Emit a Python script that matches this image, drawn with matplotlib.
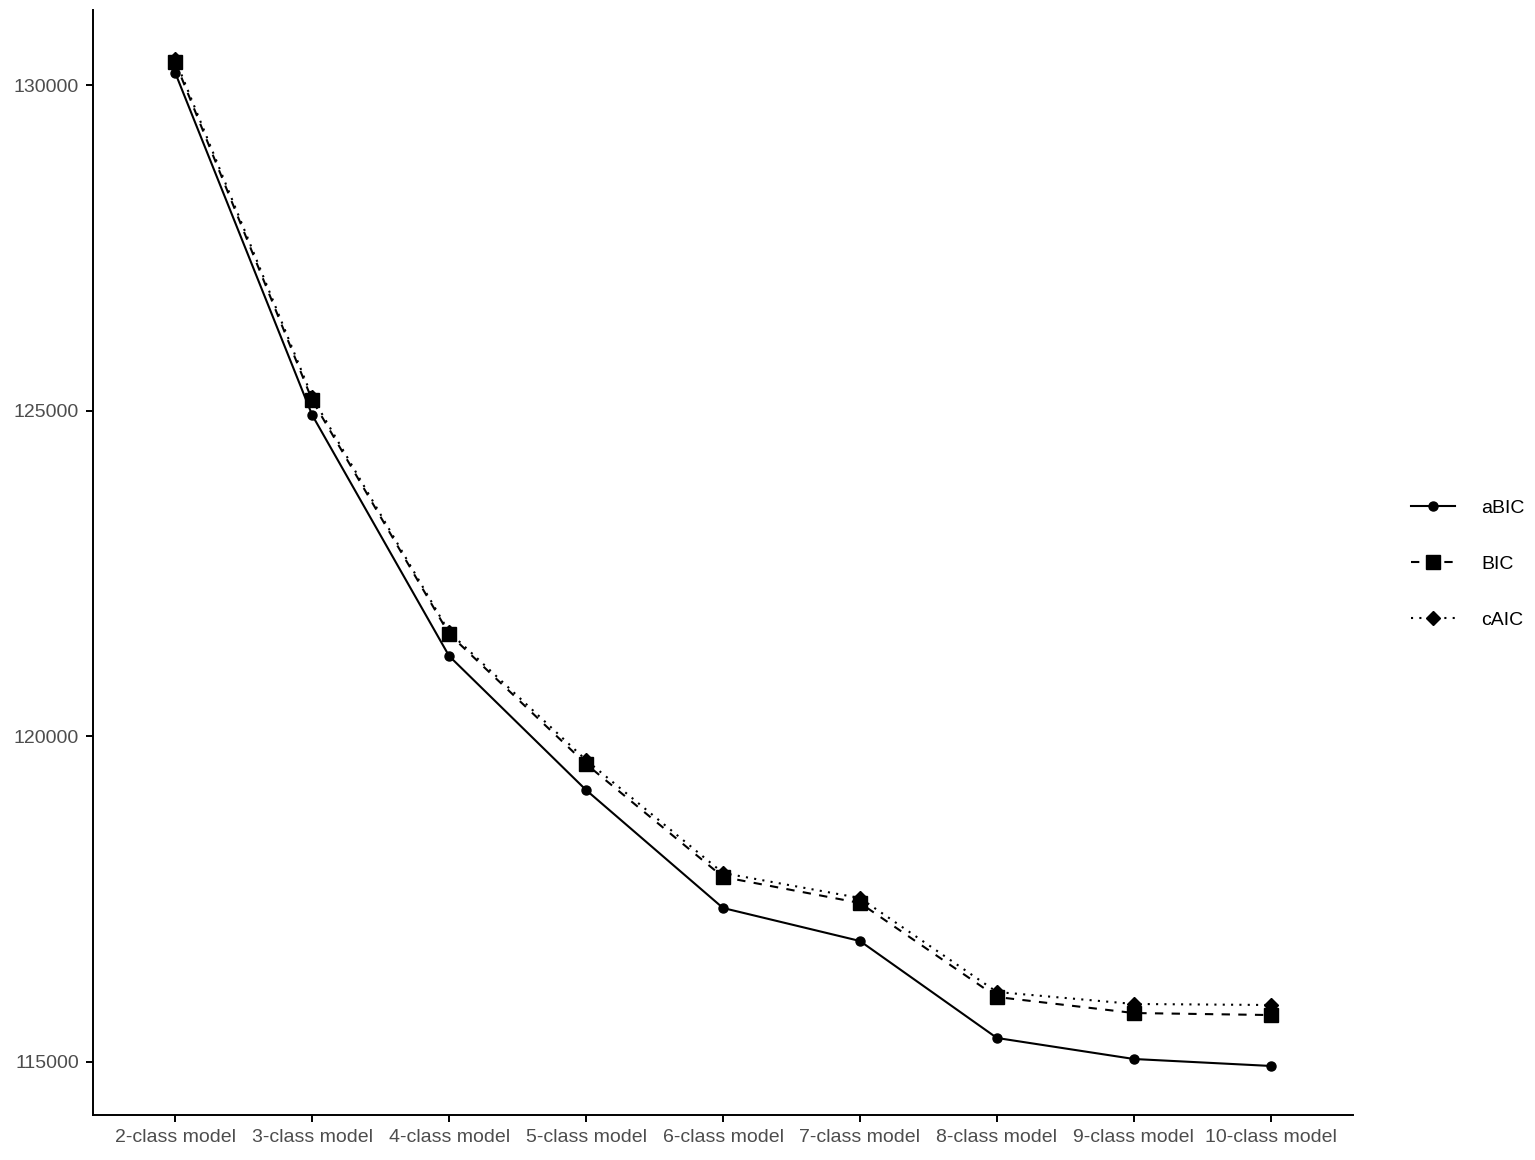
import matplotlib.pyplot as plt
import numpy as np

plt.rcParams['font.family'] = ['Liberation Sans', 'DejaVu Sans']

# data
models = ['2-class model', '3-class model', '4-class model', '5-class model',
          '6-class model', '7-class model', '8-class model', '9-class model',
          '10-class model']
abic = [130190, 124933, 121232, 119174, 117362, 116855, 115366, 115043, 114936]
bic = [130353, 125163, 121570, 119573, 117838, 117439, 115995, 115749, 115718]
caic = [130399, 125209, 121600, 119634, 117899, 117515, 116072, 115888, 115872]

x = np.arange(len(models))

fig = plt.figure(figsize=(15.35, 11.6), dpi=100)
ax = fig.add_axes([93 / 1535, 1 - 1115 / 1160, (1353 - 93) / 1535, (1115 - 10) / 1160])

lw = 1.5
ax.plot(x, abic, '-', color='black', lw=lw, marker='o', ms=6.5, label='aBIC')
ax.plot(x, bic, color='black', lw=lw, ls=(0, (4, 4)), marker='s', ms=9.5, label='BIC')
ax.plot(x, caic, color='black', lw=lw, ls=(0, (1, 3)), marker='D', ms=7.5, label='cAIC')

ax.set_xlim(-0.6, len(models) - 0.4)
ax.set_ylim(114183, 131152)
ax.set_xticks(x)
ax.set_xticklabels(models)
ax.set_yticks([115000, 120000, 125000, 130000])

for side in ['top', 'right']:
    ax.spines[side].set_visible(False)
for side in ['left', 'bottom']:
    ax.spines[side].set_linewidth(1.4)
ax.tick_params(axis='both', length=5, width=1.4, color='black',
               labelsize=14, labelcolor='#4d4d4d', pad=5)

leg = fig.legend(loc='center left', bbox_to_anchor=(1411 / 1535, 1 - 564 / 1160),
                 frameon=False, fontsize=14, handlelength=2.25, labelspacing=1.97,
                 handletextpad=1.35, borderaxespad=0, borderpad=0)

fig.savefig('out.png', dpi=100)
